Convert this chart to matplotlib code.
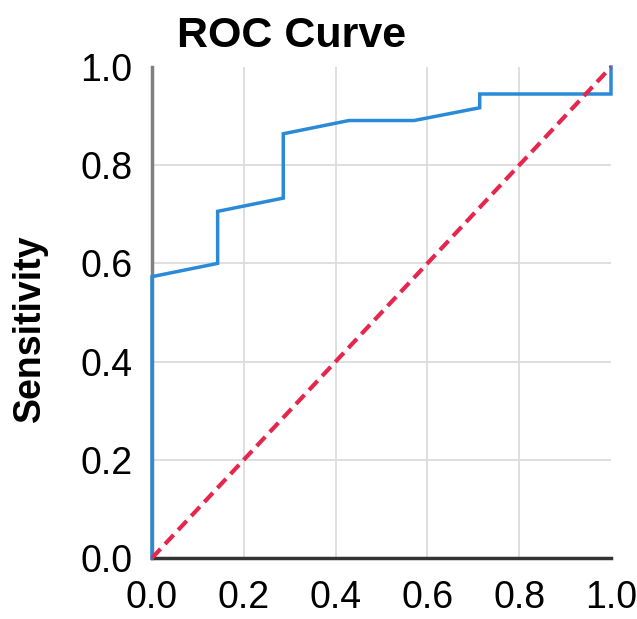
import matplotlib
matplotlib.use("Agg")
import matplotlib.pyplot as plt

# ROC curve data (1 - specificity, sensitivity)
fpr = [0.0, 0.0, 0.143, 0.143, 0.286, 0.286, 0.429, 0.571, 0.714, 0.714, 1.0, 1.0]
tpr = [0.0, 0.573, 0.600, 0.706, 0.733, 0.864, 0.891, 0.891, 0.917, 0.945, 0.945, 1.0]
ref_line = [0.0, 1.0]
ticks = [0.0, 0.2, 0.4, 0.6, 0.8, 1.0]
tick_labels = ["0.0", "0.2", "0.4", "0.6", "0.8", "1.0"]

plt.rcParams['font.family'] = ['Liberation Sans', 'DejaVu Sans']

W, H = 637, 619
fig = plt.figure(figsize=(W / 100, H / 100), dpi=100)
ax = fig.add_axes([152 / W, 1 - 558 / H, (611 - 152) / W, (558 - 67) / H])

ax.set_xlim(0, 1)
ax.set_ylim(0, 1)

ax.plot(fpr, tpr, color='#2a8ad8', lw=2.5, clip_on=False, zorder=3,
        solid_joinstyle='miter')
ax.plot(ref_line, ref_line, color='#e5264d', lw=3.0, ls=(0, (3.0, 1.6)),
        clip_on=False, zorder=4)

ax.set_xticks(ticks)
ax.set_xticklabels(tick_labels)
ax.set_yticks(ticks)
ax.set_yticklabels(tick_labels)
ax.tick_params(axis='both', length=0, labelsize=27)
ax.tick_params(axis='x', pad=16)
ax.tick_params(axis='y', pad=14)

ax.grid(True, color='#dcdcdc', lw=1.3)
ax.set_axisbelow(True)
for gl in (ax.get_xgridlines()[0], ax.get_xgridlines()[-1],
           ax.get_ygridlines()[0], ax.get_ygridlines()[-1]):
    gl.set_visible(False)

for s in ('top', 'right'):
    ax.spines[s].set_visible(False)
ax.spines['left'].set_color('#808080')
ax.spines['left'].set_linewidth(2.5)
ax.spines['bottom'].set_color('#333333')
ax.spines['bottom'].set_linewidth(2.5)

fig.text(292 / W, 1 - 36 / H, "ROC Curve", ha='center', va='center',
         fontsize=31, fontweight='bold')
fig.text(30 / W, 1 - 328 / H, "Sensitivity", ha='center', va='center',
         rotation=90, fontsize=27, fontweight='bold')

fig.savefig("out.png", dpi=100)
